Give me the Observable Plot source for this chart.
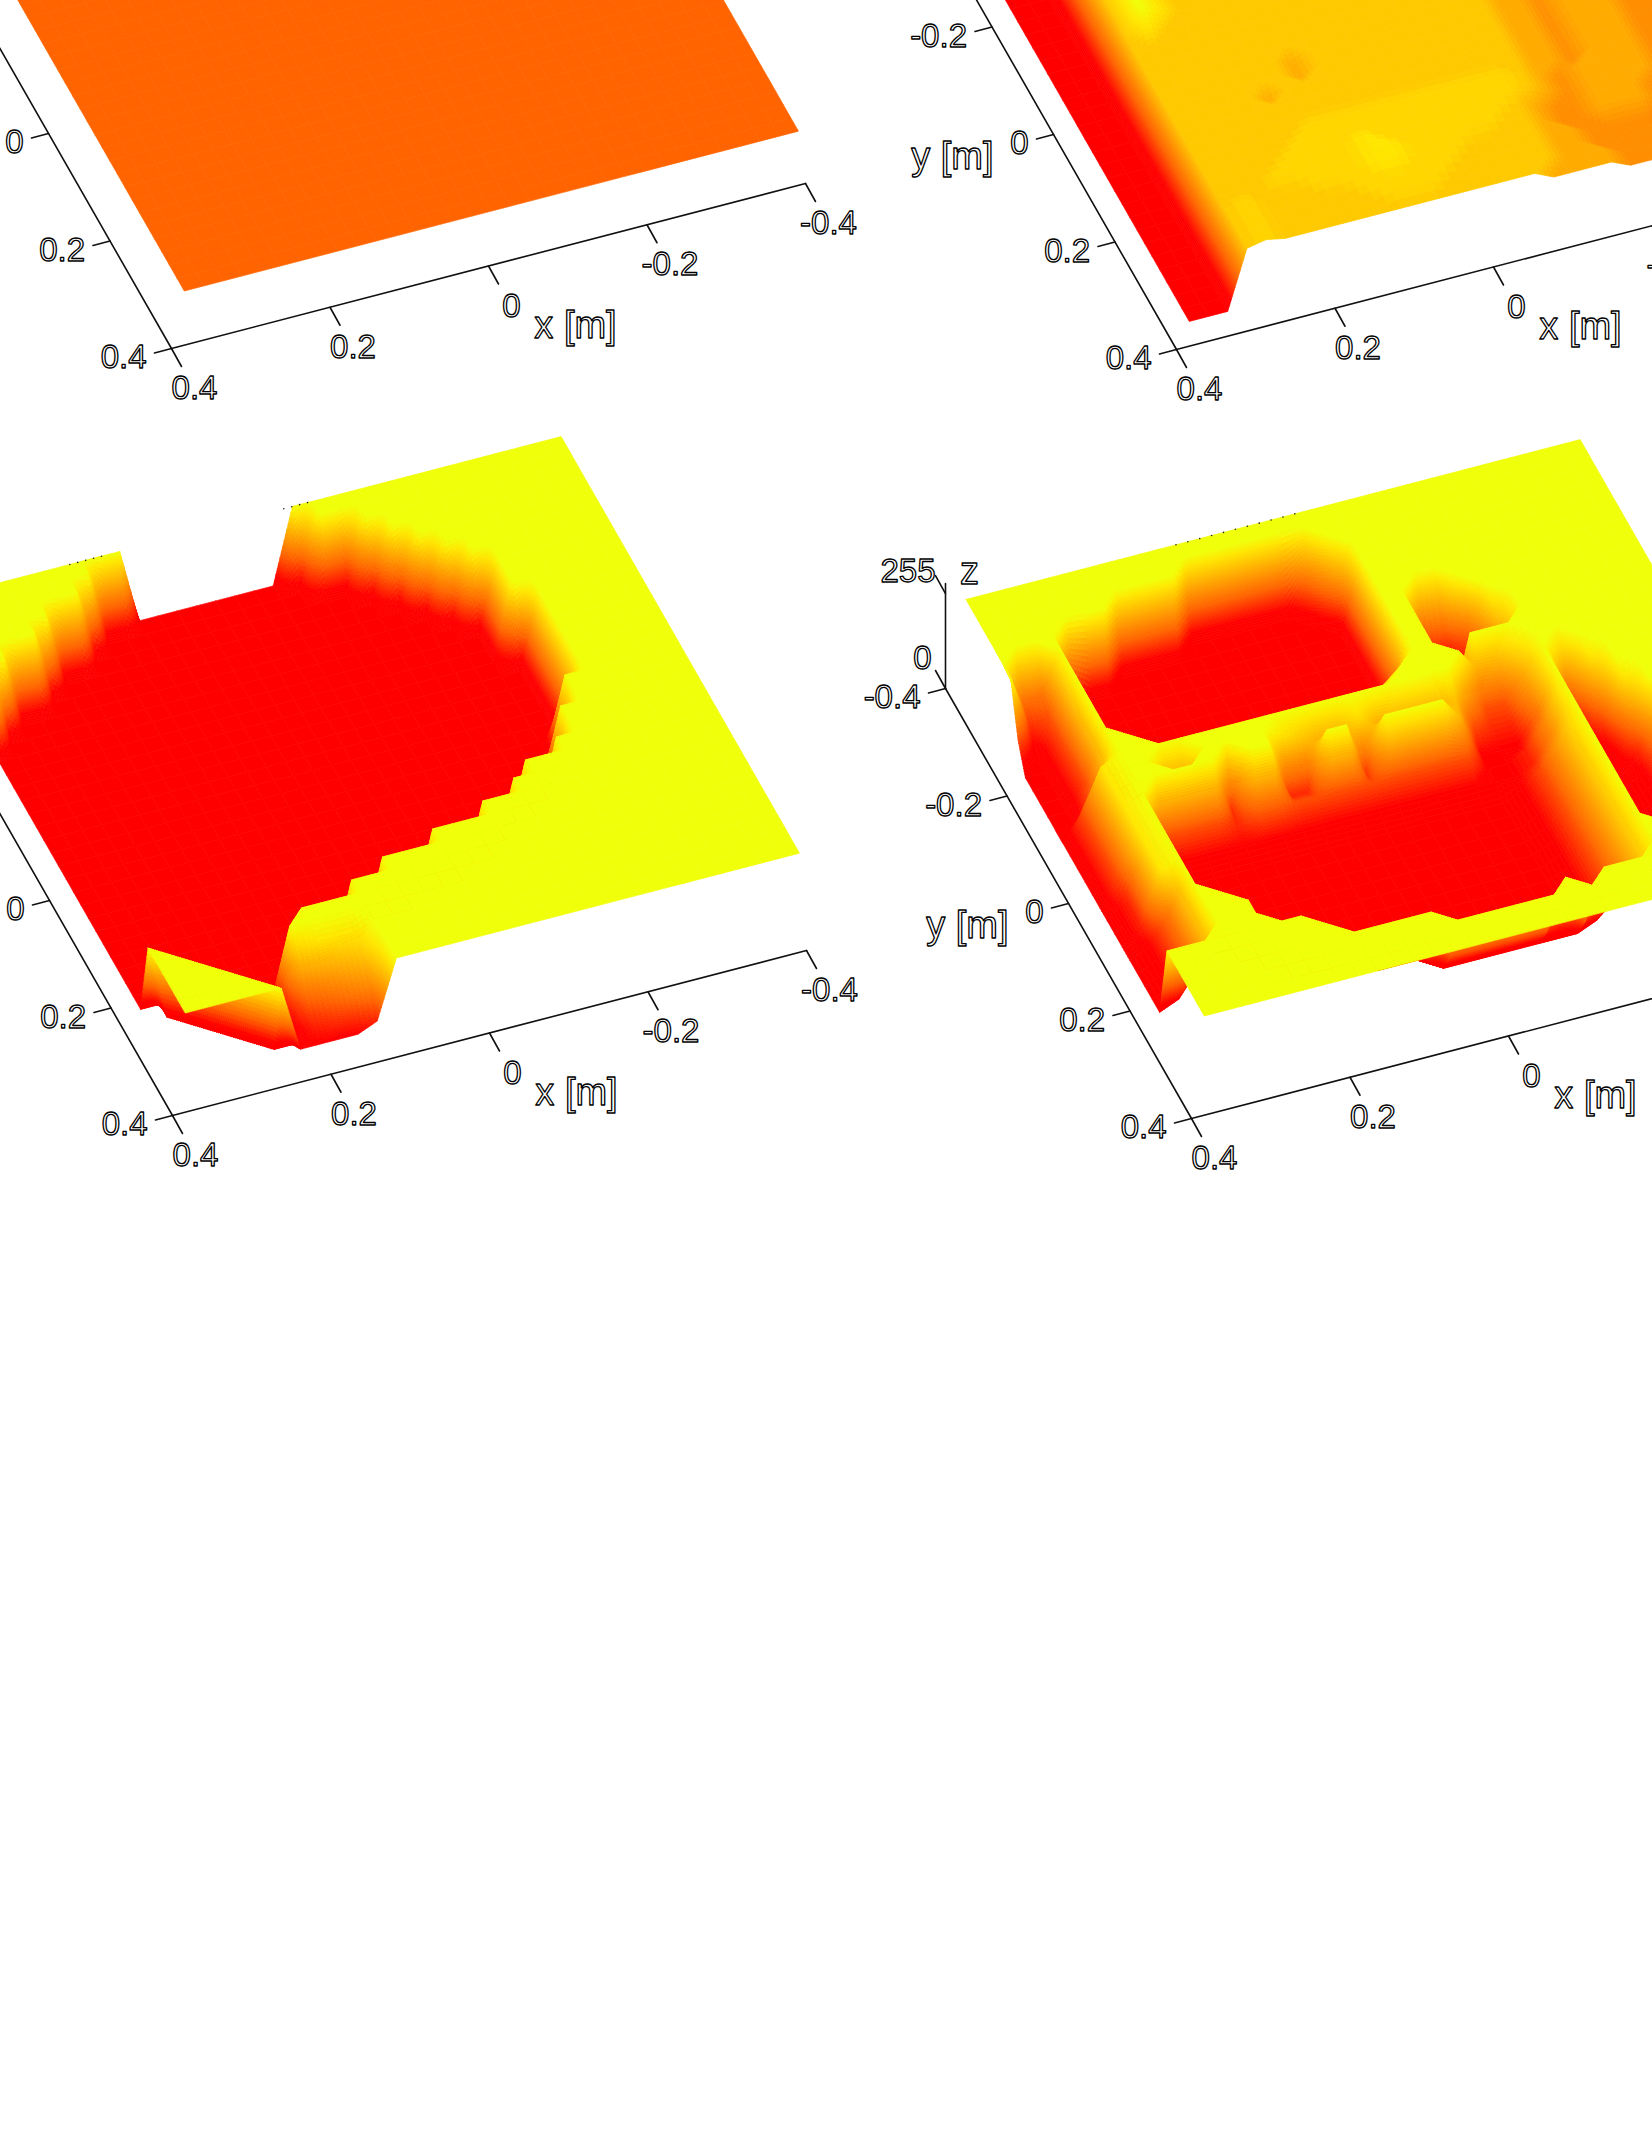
<!DOCTYPE html>
<html><head><meta charset="utf-8">
<script src="https://cdn.jsdelivr.net/npm/d3@7"></script>
<script src="https://cdn.jsdelivr.net/npm/@observablehq/plot@0.6"></script>
<style>html,body{margin:0;padding:0;background:#fff}svg{display:block}</style>
</head><body>
<script>
// height levels: character -> z value (grey level 0..255 on the z axis)
const zLevels = {"0":50,"1":72,"2":94,"3":117,"4":139,"5":161,"6":183,"7":206,"b":216,"8":228,"9":250,"a":129};
const xTicks = [0.4,0.2,0,-0.2,-0.4];
const yTicks = [-0.4,-0.2,0,0.2,0.4];
const zTicks = [0,255];
// rows: y from far to near, columns: x from 0.38 to -0.395; a row's last character repeats to the end
const panel1Rows = Array(33).fill("a");
const panel2Rows = [
"00077","00077","00077","00077","00077","00077","00077","00077","00077","00077","00077","00077",
"0007"+"8777777777777777"+"76656665",
"0007"+"9877777777777777"+"76656665",
"0007"+"9877777777777777"+"76656665",
"0007"+"9877777777777777"+"76656665",
"0007"+"8777777777777777"+"76656665",
"0007"+"7777777777777777"+"76656665",
"0007"+"7777777777777777"+"76656665",
"0007"+"7777777777777777"+"76656665",
"0007"+"7777776777777777"+"76656665",
"0007"+"7777776777777777"+"76656665",
"0007"+"7777677777777777"+"76656665",
"0007"+"7777777777777777"+"76656665",
"0007"+"7777777777777777"+"76656665",
"0007"+"77777bbbbbbbbbbb"+"76566665",
"0007"+"7777bbbbbbbbbbbb"+"76566665",
"0007"+"777bbbb8bbbbbbb7"+"65566655",
"0007"+"77bbbbb88bbbbb77"+"65566655",
"0007"+"b777bbb88bbb7777"+"66555544",
"0007"+"b77777bbbbb77777"+"66555544",
"0007"+"b777777bbb777777"+"66655544",
"0007"+"b777777777777776"+"66655544"];
const panel3Rows = [
"9999999999"+"00000000"+"9",
"99999999"+"00000000000"+"9",
"9999999"+"00000000000000"+"9",
"99999"+"00000000000000000"+"9",
"9999"+"0000000000000000000"+"9",
"99"+"0000000000000000000000"+"9",
"9"+"000000000000000000000000"+"9",
"00000000000000000000000000"+"9",
"00000000000000000000000000"+"9",
"00000000000000000000000000"+"9",
"000000000000000000000000000"+"9",
"000000000000000000000000000"+"9",
"000000000000000000000000000"+"9",
"000000000000000000000000000"+"9",
"000000000000000000000000000"+"9",
"000000000000000000000000000"+"9",
"00000000000000000000000000"+"9",
"00000000000000000000000000"+"9",
"0000000000000000000000000"+"9",
"0000000000000000000000000"+"9",
"000000000000000000000000"+"9",
"0000000000000000000000"+"9",
"000000000000000000000"+"9",
"0000000000000000000"+"9",
"0000000000000000"+"9",
"0000000000000"+"9",
"00000000000"+"9",
"9"+"0000000"+"9",
"99"+"00000"+"9",
"999"+"0000"+"7888"+"9",
"9999"+"000"+"4567"+"9",
"99999"+"00"+"2345"+"9",
"999999"+"1111"+"2"+"9"];
const panel4Rows = [
"9","9",
"99999999999"+"000000"+"49",
"9999999"+"00000000000"+"59",
"99992"+"00000000000000"+"9",
"9449"+"000000000000000"+"9",
"9239"+"000000000000000"+"9",
"3039"+"000000000000000"+"99"+"459",
"0039"+"000000000000000"+"99"+"1149",
"0039"+"000000000000000"+"99"+"00179",
"0039"+"000000000000000"+"99"+"00059",
"0039"+"00000000000000"+"6"+"99"+"0"+"9",
"00499"+"000000000000"+"7"+"999"+"9"+"668"+"9",
"0389"+"99999999999999999"+"6336"+"979",
"0389"+"9"+"66"+"9999"+"87"+"66"+"8"+"66667"+"3"+"225"+"9"+"38"+"9",
"0389"+"9999"+"2"+"99"+"22"+"99"+"2"+"99996"+"1"+"114"+"9"+"05"+"9",
"0389"+"3333"+"2"+"44"+"33"+"33"+"3"+"33333"+"1"+"125"+"9"+"028"+"9",
"0389"+"1111"+"1"+"11"+"11"+"11"+"1"+"11111"+"1"+"125"+"9"+"00"+"5"+"9",
"0389"+"000000000000000000"+"136"+"9"+"00"+"27"+"9",
"0289"+"000000000000000000"+"136"+"9"+"00"+"15"+"9",
"0289"+"000000000000000000"+"136"+"9"+"00"+"15"+"9",
"0289"+"000000000000000000"+"136"+"9"+"00"+"15"+"9",
"0149"+"000000000000000000"+"136"+"9"+"00"+"15"+"9",
"0149"+"000000000000000000"+"136"+"9"+"00"+"15"+"9",
"01499"+"00000000000000000"+"136"+"9"+"00"+"15"+"9",
"014999"+"0000000000000000"+"136"+"9"+"00"+"26"+"9",
"014999"+"0000000000000000"+"136"+"9"+"04"+"9",
"99999999"+"111"+"00000000000"+"136"+"9",
"999999999"+"22222"+"00000000"+"136"+"9",
"99999999999999"+"333333"+"9"+"3"+"9",
"9","9","9"];
// where each panel's axis corner (x=0.4, y=0.4, z=0) sits on the page; foldFrom: first row whose cells fold on a diagonal
const panels = [
 {name:"p1", rows:panel1Rows, corner:[171,348], zAxis:false, foldFrom:0},
 {name:"p2", rows:panel2Rows, corner:[1176,349], zAxis:false, foldFrom:0},
 {name:"p3", rows:panel3Rows, corner:[172,1115], zAxis:false, foldFrom:27},
 {name:"p4", rows:panel4Rows, corner:[1191,1118], zAxis:true, foldFrom:0}
];
// black specks along the far edge of the two lower surfaces: [panel index, x]
const specks = [[2,0.225],[2,0.215],[2,0.205],[2,0.195],[2,0.185],[2,-0.045],[2,-0.055],[2,-0.065],[2,-0.075],
 [3,0.115],[3,0.1],[3,0.085],[3,0.07],[3,0.055],[3,0.04],[3,0.025],[3,0.01],[3,-0.005],[3,-0.02],[3,-0.035]];

const COLS = 33, ROWS = 33;
const colX = i => 0.38 - (0.775 * i) / (COLS - 1);
const rowY = j => -0.385 + (0.775 * j) / (ROWS - 1);
const project = (p, x, y, z) => {
  const u = (0.4 - x) / 0.8, v = (y - 0.4) / 0.8;
  return [p.corner[0] + 634 * u + 246 * v, p.corner[1] - 165 * u + 430 * v - 0.372 * z];
};
const grid = p => p.rows.map(r => {
  const a = Array.from(r);
  while (a.length < COLS) a.push(a[a.length - 1]);
  return a.map(c => zLevels[c]);
});
// height inside one grid cell; a cell with one odd corner may fold along its diagonal
const cellHeight = (a, b, c, d, fold) => {
  if (fold) {
    if (b === c && c === d && a !== b) return (s, t) => b + (a - b) * Math.max(0, 1 - s - t);
    if (a === c && c === d && b !== a) return (s, t) => a + (b - a) * Math.max(0, s - t);
    if (a === b && b === d && c !== a) return (s, t) => a + (c - a) * Math.max(0, t - s);
    if (a === b && b === c && d !== a) return (s, t) => a + (d - a) * Math.max(0, s + t - 1);
  }
  return (s, t) => (a * (1 - s) + b * s) * (1 - t) + (c * (1 - s) + d * s) * t;
};
// painter's order: far rows first, high u first; steep cells are subdivided so the height colour blends
const quads = [];
let qid = 0;
for (const p of panels) {
  const Z = grid(p);
  for (let j = 0; j < ROWS - 1; j++) for (let i = COLS - 2; i >= 0; i--) {
    const a = Z[j][i], b = Z[j][i + 1], c = Z[j + 1][i], d = Z[j + 1][i + 1];
    let ns = Math.max(1, Math.ceil(Math.max(Math.abs(a - b), Math.abs(c - d)) / 6));
    let nt = Math.max(1, Math.ceil(Math.max(Math.abs(a - c), Math.abs(b - d)) / 6));
    if (ns * nt > 200) ns = nt = 14;
    const zAt = cellHeight(a, b, c, d, j >= p.foldFrom);
    for (let tk = 0; tk < nt; tk++) for (let sk = ns - 1; sk >= 0; sk--) {
      const s0 = sk / ns, s1 = (sk + 1) / ns, t0 = tk / nt, t1 = (tk + 1) / nt;
      const v = zAt((s0 + s1) / 2, (t0 + t1) / 2);
      const id = qid++;
      for (const [s, t] of [[s0,t0],[s1,t0],[s1,t1],[s0,t1],[s0,t0]]) {
        const [X, Y] = project(p, colX(i + s), rowY(j + t), zAt(s, t));
        quads.push({X, Y, id, v});
      }
    }
  }
}
const axisLines = [], labels = [];
const seg = (key, a, b) => { axisLines.push({X:a[0], Y:a[1], key}, {X:b[0], Y:b[1], key}); };
panels.forEach((p, k) => {
  const xa = x => project(p, x, 0.4, 0), ya = y => project(p, 0.4, y, 0);
  seg(`x${k}`, xa(0.4), xa(-0.4));
  seg(`y${k}`, ya(-0.4), ya(0.4));
  for (const t of xTicks) {
    const o = xa(t);
    seg(`xt${k}${t}`, o, [o[0] + 10, o[1] + 18]);
    labels.push({X:o[0] + 23, Y:o[1] + 40, text:String(t), anchor:"middle", size:33});
  }
  for (const t of yTicks) {
    const o = ya(t);
    seg(`yt${k}${t}`, o, [o[0] - 17, o[1] + 4.5]);
    labels.push({X:o[0] - 25, Y:o[1] + 9, text:String(t), anchor:"end", size:33});
  }
  const x0 = xa(0), y0 = ya(0);
  labels.push({X:x0[0] + 87, Y:x0[1] + 60, text:"x [m]", anchor:"middle", size:38});
  labels.push({X:y0[0] - 60, Y:y0[1] + 22, text:"y [m]", anchor:"end", size:38});
  if (p.zAxis) {
    const o = project(p, 0.4, -0.4, 0), t255 = project(p, 0.4, -0.4, 255);
    seg(`z${k}`, o, [t255[0], t255[1] - 10]);
    for (const t of zTicks) {
      const q = project(p, 0.4, -0.4, t);
      seg(`zt${k}${t}`, q, [q[0] - 10, q[1] - 18]);
      labels.push({X:q[0] - (t ? 10 : 14), Y:q[1] - (t ? 22 : 30), text:String(t), anchor:"end", size:33});
    }
    labels.push({X:t255[0] + 24, Y:t255[1] - 22, text:"z", anchor:"middle", size:38});
  }
});
const speckPts = specks.map(([k, x]) => {
  const [X, Y] = project(panels[k], x, rowY(0), 250);
  return {X, Y};
});
const textMark = (anchor, size) => Plot.text(labels.filter(d => d.anchor === anchor && d.size === size), {
  x:"X", y:"Y", text:"text", fontFamily:"Liberation Sans, Arial", fontSize:size, textAnchor:anchor,
  fill:"#fff", stroke:"#000", strokeWidth:1.3, paintOrder:"normal", lineAnchor:"middle"
});
const chart = Plot.plot({
  width:1652, height:2138, margin:0,
  x:{domain:[0,1652], range:[0,1652], axis:null},
  y:{domain:[0,2138], range:[0,2138], axis:null},
  color:{type:"linear", domain:[75,129,228,250], range:["#ff0000","#ff6400","#ffe600","#f0ff0a"], clamp:true},
  style:{background:"#fff"},
  marks:[
    Plot.line(quads, {x:"X", y:"Y", z:"id", fill:"v", stroke:"v", strokeWidth:0.7, curve:"linear"}),
    Plot.dot(speckPts, {x:"X", y:"Y", r:0.8, fill:"#222"}),
    Plot.line(axisLines, {x:"X", y:"Y", z:"key", stroke:"#111", strokeWidth:1.6}),
    textMark("middle", 33), textMark("end", 33), textMark("middle", 38), textMark("end", 38)
  ]
});
document.body.appendChild(chart);
</script>
</body></html>
